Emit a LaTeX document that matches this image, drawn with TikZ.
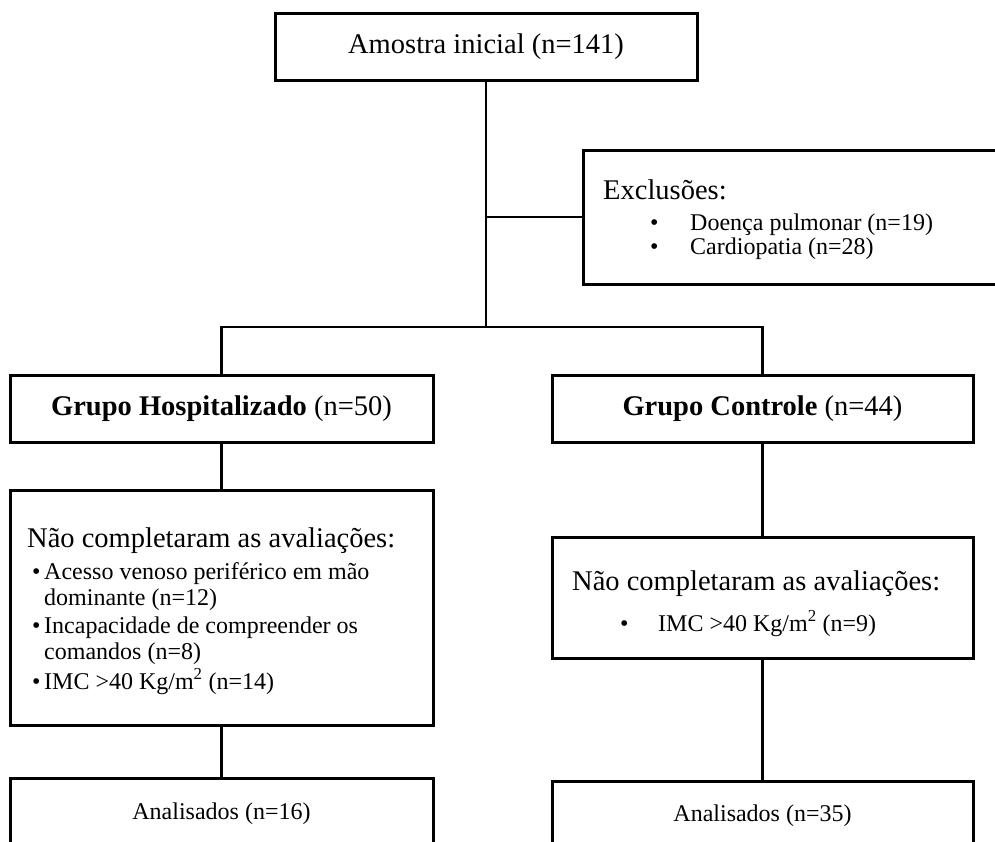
\documentclass[tikz,border=0pt]{standalone}
\usepackage{fontspec}
\setmainfont{Liberation Serif}
\begin{document}
\begin{tikzpicture}[x=1pt,y=-1pt]
	\tikzstyle{box}   = [draw=black, line width=3pt, minimum height=67pt, inner sep=0pt]
	\tikzstyle{big}   = [font=\fontsize{28.5}{34}\selectfont, inner sep=0pt]
	\tikzstyle{small} = [font=\fontsize{24}{29}\selectfont, inner sep=0pt]
	\tikzstyle{link}  = [line width=2.2pt]

	\useasboundingbox (0,0) rectangle (995,841);
	\clip (0,0) rectangle (995,841);

	% top and exclusions
	\node[box, big, minimum width=422pt] (amostra) at (486,46.5) {Amostra inicial (n=141)};
	\node[box, minimum width=430pt, minimum height=134pt] (exclusoes) at (798,217) {};
	\node[big, anchor=base west] (exctitle) at (603,199) {Exclusões:};
	\foreach \name/\y/\txt in {exca/230/Doença pulmonar (n=19), excb/254/Cardiopatia (n=28)} {
		\node[small, anchor=base west] (\name dot) at (650,\y) {•};
		\node[small, anchor=base west] (\name) at (690,\y) {\txt};
	}

	% groups
	\node[box, big, minimum width=423pt] (hosp) at (221.5,408.5) {\textbf{Grupo Hospitalizado} (n=50)};
	\node[box, big, minimum width=421pt] (cont) at (762.5,408.5) {\textbf{Grupo Controle} (n=44)};

	% not completed, hospital
	\node[box, minimum width=423pt, minimum height=235pt] (hnc) at (221.5,607.5) {};
	\node[big, anchor=base west] (hnctitle) at (27,547) {Não completaram as avaliações:};
	\node[small, anchor=base west] (hdota) at (32,579) {•};
	\node[small, anchor=base west] (hnca) at (44,579) {Acesso venoso periférico em mão};
	\node[small, anchor=base west] (hncb) at (44,605) {dominante (n=12)};
	\node[small, anchor=base west] (hdotc) at (32,633) {•};
	\node[small, anchor=base west] (hncc) at (44,633) {Incapacidade de compreender os};
	\node[small, anchor=base west] (hncd) at (44,659) {comandos (n=8)};
	\node[small, anchor=base west] (hdote) at (32,689) {•};
	\node[small, anchor=base west] (hnce) at (44,689) {IMC >40 Kg/m\textsuperscript{2} (n=14)};

	% not completed, control
	\node[box, minimum width=421pt, minimum height=121pt] (cnc) at (762.5,597.5) {};
	\node[big, anchor=base west] (cnctitle) at (572,590) {Não completaram as avaliações:};
	\node[small, anchor=base west] (cdota) at (620,631) {•};
	\node[small, anchor=base west] (cnca) at (658,631) {IMC >40 Kg/m\textsuperscript{2} (n=9)};

	% analysed
	\node[box, small, minimum width=423pt, minimum height=72pt] (hanal) at (221.5,814) {Analisados (n=16)};
	\node[box, small, minimum width=421pt, minimum height=70pt] (canal) at (762.5,816) {Analisados (n=35)};

	\coordinate (split) at (486,327);
	\coordinate (side) at (486,217);
	\draw[link] (amostra) -- (split);
	\draw[link] (side) -- (exclusoes.west);
	\draw[link] (hosp.north) |- (split) -| (cont.north);
	\draw[link] (hosp) -- (hnc);
	\draw[link] (cont) -- (cnc);
	\draw[link] (hnc) -- (hanal);
	\draw[link] (cnc) -- (canal);
\end{tikzpicture}
\end{document}
